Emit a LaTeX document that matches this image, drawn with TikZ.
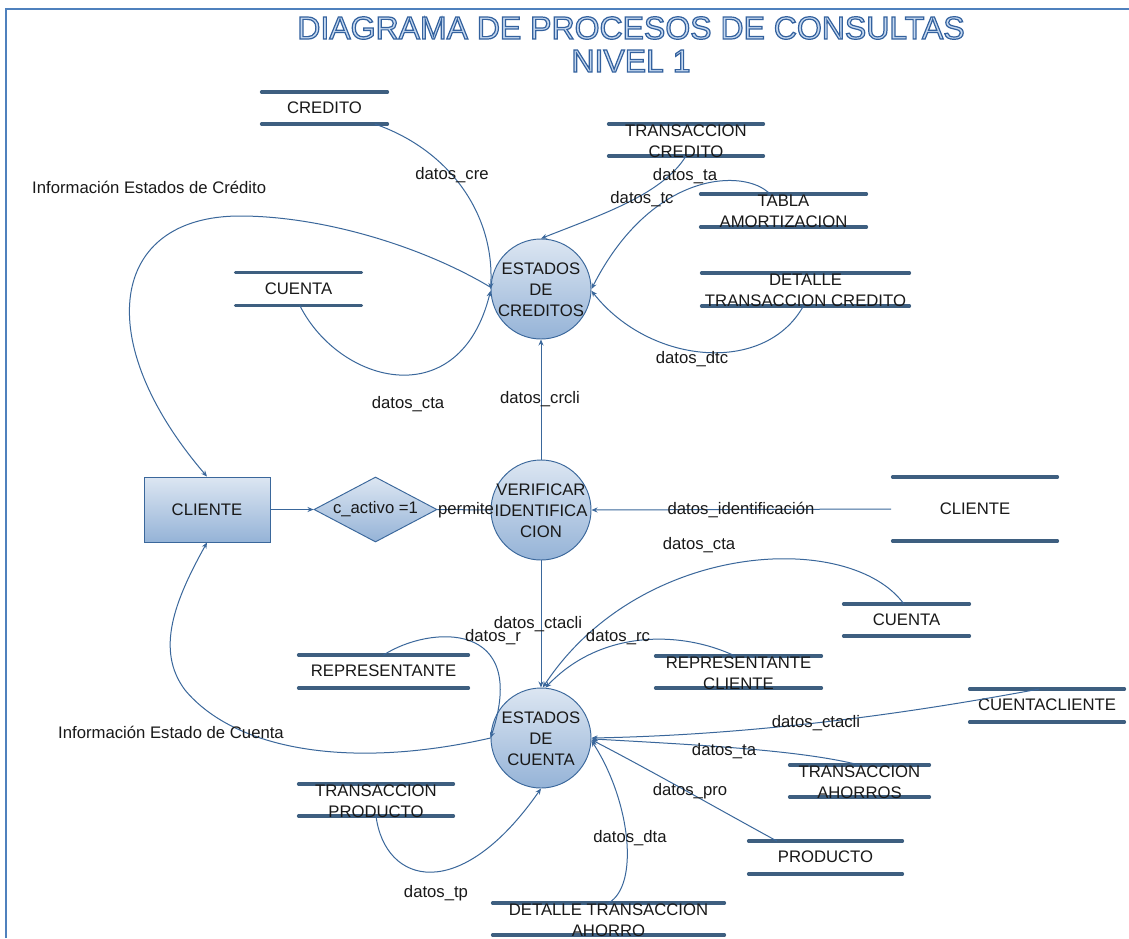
\documentclass[tikz,border=0pt]{standalone}
\usepackage{fontspec}
\setmainfont{Liberation Sans}
\usetikzlibrary{shapes.geometric,arrows.meta,calc}
\definecolor{edgeblue}{HTML}{3A679B}
\definecolor{framecol}{HTML}{4F81BD}
\definecolor{storecol}{HTML}{3E5F80}
\definecolor{gradtop}{HTML}{DCE6F2}
\definecolor{gradbot}{HTML}{95B3D7}
\definecolor{titlefill}{HTML}{C6D9F0}
\newcommand{\outlined}{\color{titlefill}\special{pdf:code 2 Tr 1.2 w 0.20 0.38 0.62 RG}}
\tikzset{
  x=1pt,y=-1pt,
  txt/.style={font=\fontsize{16.7}{21}\selectfont,text=black!90,inner sep=0pt,align=center},
  proc/.style={circle,draw=edgeblue,line width=0.95pt,top color=gradtop,bottom color=gradbot,minimum size=100pt,inner sep=0pt,label={[txt,yshift=-0.5pt]center:#1}},
  ext/.style={rectangle,draw=edgeblue,line width=0.95pt,top color=gradtop,bottom color=gradbot,minimum width=126pt,minimum height=65pt,inner sep=0pt,txt},
  dec/.style={diamond,draw=edgeblue,line width=0.95pt,top color=gradtop,bottom color=gradbot,minimum width=123pt,minimum height=65pt,inner sep=0pt,aspect=1.9,txt},
  store/.style 2 args={minimum width=#1,minimum height=#2,inner sep=0pt,outer sep=0pt,
    append after command={
      (\tikzlastnode.north west) edge[storeline] (\tikzlastnode.north east)
      (\tikzlastnode.south west) edge[storeline] (\tikzlastnode.south east)}},
  storeline/.style={draw=storecol,line width=3.2pt,line cap=round,shorten >=1.5pt,shorten <=1.5pt},
  conn/.style={draw=edgeblue,line width=1pt,-{Stealth[length=6pt,width=5pt]}},
  plainconn/.style={draw=edgeblue,line width=1pt},
  stext/.style={label={[txt,yshift=0.5pt]center:#1}},
  stexttwo/.style={label={[txt,yshift=-1pt]center:#1}},
  lab/.style={txt,yshift=-1.5pt},
  frameline/.style={draw=framecol,line width=1.6pt},
  titletxt/.style={font=\fontsize{32}{33}\selectfont,inner sep=0pt}
}
\begin{document}
\begin{tikzpicture}
\useasboundingbox[fill=white] (0,0) rectangle (1129,938);
\draw[frameline] (6,938) -- (6,9) -- (1129,9);
\node[titletxt] (t1) at (631,28) {\outlined DIAGRAMA DE PROCESOS DE CONSULTAS};
\node[titletxt] (t2) at (631,61) {\outlined NIVEL 1};
\special{pdf:code 0 Tr}

\node[store={129pt}{32pt},stext={CREDITO}] (crd) at (324.5,108) {};
\node[store={158pt}{32pt},stexttwo={TRANSACCION\\CREDITO}] (tc) at (686,140) {};
\node[store={169pt}{33pt},stexttwo={TABLA\\AMORTIZACION}] (ta) at (783.5,210.5) {};
\node[store={211pt}{33pt},stexttwo={DETALLE\\TRANSACCION CREDITO}] (dtc) at (805.5,289.5) {};
\node[store={129pt}{33pt},stext={CUENTA}] (cta) at (298.5,289) {};
\node[store={168pt}{64pt},stext={CLIENTE}] (cli) at (975,509) {};
\node[store={129pt}{32pt},stext={CUENTA}] (cta2) at (906.5,620) {};
\node[store={173pt}{33pt},stext={REPRESENTANTE}] (rep) at (383.5,671.5) {};
\node[store={169pt}{32pt},stexttwo={REPRESENTANTE\\CLIENTE}] (repc) at (738.5,672) {};
\node[store={158pt}{33pt},stext={CUENTACLIENTE}] (ctac) at (1047,705.5) {};
\node[store={143pt}{32pt},stexttwo={TRANSACCION\\AHORROS}] (tah) at (859.5,781) {};
\node[store={158pt}{32pt},stexttwo={TRANSACCION\\PRODUCTO}] (tp) at (376,800) {};
\node[store={157pt}{33pt},stext={PRODUCTO}] (pro) at (825.5,857.5) {};
\node[store={235pt}{32pt},stexttwo={DETALLE TRANSACCION\\AHORRO}] (dta) at (608.5,919) {};

\node[proc={ESTADOS\\DE\\CREDITOS}] (ec) at (541,289) {};
\node[proc={VERIFICAR\\IDENTIFICA\\CION}] (vi) at (541,510) {};
\node[proc={ESTADOS\\DE\\CUENTA}] (eu) at (541,738) {};
\node[ext] (ecli) at (207,509.5) {CLIENTE};
\node[dec] (d) at (375.5,509.5) {c\_activo =1};

\coordinate (peak) at (240,216);
\path[conn] ($(crd.south west)!.89!(crd.south east)$) .. controls (450,150) and (495,215) .. (ec.west);
\path[conn] ($(tc.south west)!.5!(tc.south east)$) .. controls (662,195) and (600,215) .. (ec.north);
\path[conn] ($(ta.north west)!.42!(ta.north east)$) .. controls (745,168) and (652,170) .. (ec.east);
\path[conn] ($(dtc.south west)!.49!(dtc.south east)$) .. controls (765,375) and (650,365) .. (ec.-2);
\path[conn] ($(cta.south west)!.51!(cta.south east)$) .. controls (340,385) and (460,415) .. (ec.-178);
\path[conn] (ec.178) .. controls (420,245) and (320,216) .. (peak) .. controls (110,216) and (90,340) .. (ecli.north);
\path[conn] (vi.north) -- (ec.south);
\path[conn] (ecli.east) -- (d.west);
\path[plainconn] (d.east) -- (vi.west);
\path[conn] (cli.west) -- (vi.east);
\path[conn] (vi.south) -- (eu.north);
\path[conn] ($(cta2.north west)!.48!(cta2.north east)$) .. controls (850,530) and (640,540) .. (eu.88);
\path[conn] ($(repc.north west)!.48!(repc.north east)$) .. controls (680,630) and (600,630) .. (eu.85);
\path[conn] ($(rep.north west)!.5!(rep.north east)$) .. controls (430,625) and (530,620) .. (eu.180);
\path[conn] (eu.180) .. controls (350,770) and (235,750) .. (185,690) .. controls (155,650) and (175,600) .. (ecli.south);
\path[conn] ($(ctac.north west)!.45!(ctac.north east)$) .. controls (900,715) and (750,735) .. (eu.0);
\path[conn] ($(tah.north west)!.5!(tah.north east)$) .. controls (800,750) and (700,745) .. (eu.-1);
\path[conn] ($(pro.north west)!.19!(pro.north east)$) .. controls (720,810) and (650,770) .. (eu.-2);
\path[conn] ($(dta.north west)!.5!(dta.north east)$) .. controls (640,885) and (630,800) .. (eu.-3);
\path[conn] ($(tp.south west)!.5!(tp.south east)$) .. controls (385,885) and (460,905) .. (eu.south);

\node[lab] (l1) at (452,174) {datos\_cre};
\node[lab] (l2) at (685,175) {datos\_ta};
\node[lab] (l3) at (642,198) {datos\_tc};
\node[lab] (l4) at (692,358) {datos\_dtc};
\node[lab] (l5) at (408,403) {datos\_cta};
\node[lab] (l6) at (540,398) {datos\_crcli};
\node[lab,anchor=west] (l7) at (32,186) {Información Estados de Crédito};
\node[lab] (l8) at (466,509) {permite};
\node[lab] (l9) at (741,508) {datos\_identificación};
\node[lab] (l10) at (699,544) {datos\_cta};
\node[lab] (l11) at (538,623) {datos\_ctacli};
\node[lab] (l12) at (493,636) {datos\_r};
\node[lab] (l13) at (618,636) {datos\_rc};
\node[lab,anchor=west] (l14) at (58,731) {Información Estado de Cuenta};
\node[lab] (l15) at (816,722) {datos\_ctacli};
\node[lab] (l16) at (724,750) {datos\_ta};
\node[lab] (l17) at (690,790) {datos\_pro};
\node[lab] (l18) at (630,837) {datos\_dta};
\node[lab] (l19) at (436,892) {datos\_tp};
\end{tikzpicture}
\end{document}
